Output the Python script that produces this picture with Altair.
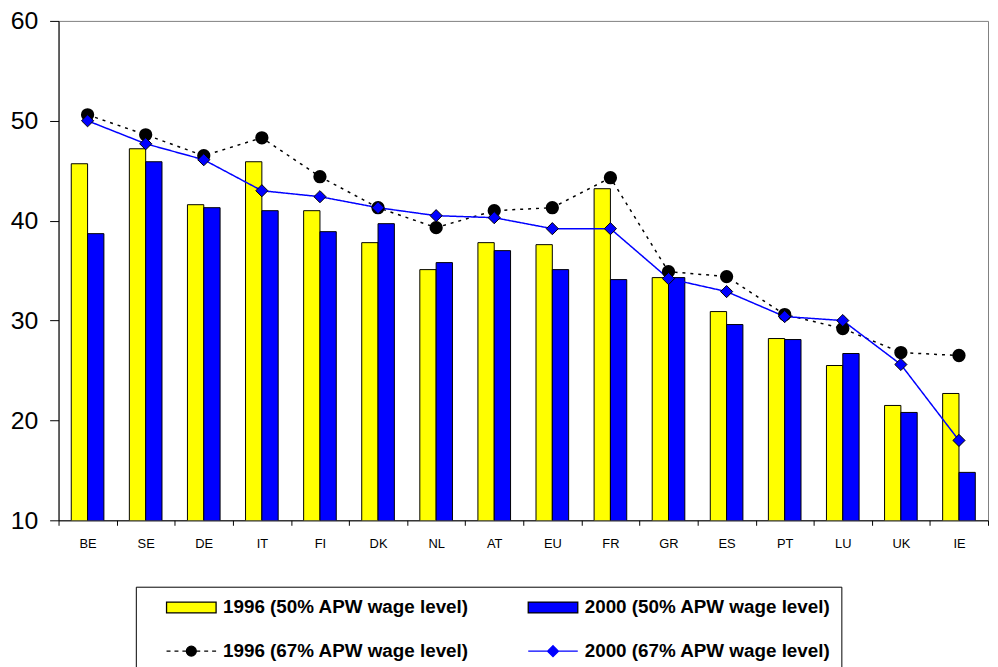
import altair as alt
import pandas as pd

countries = ["BE", "SE", "DE", "IT", "FI", "DK", "NL", "AT", "EU", "FR", "GR", "ES", "PT", "LU", "UK", "IE"]
bar_1996_50 = [45.7, 47.2, 41.6, 45.9, 41.0, 37.8, 35.1, 37.8, 37.6, 43.2, 34.3, 30.9, 28.2, 25.5, 21.5, 22.7]
bar_2000_50 = [38.7, 45.9, 41.3, 41.0, 38.9, 39.7, 35.8, 37.0, 35.1, 34.1, 34.3, 29.6, 28.1, 26.7, 20.8, 14.8]
line_1996_67 = [50.6, 48.6, 46.5, 48.3, 44.4, 41.3, 39.3, 41.0, 41.3, 44.3, 34.9, 34.4, 30.6, 29.2, 26.8, 26.5]
line_2000_67 = [50.0, 47.7, 46.1, 43.0, 42.4, 41.3, 40.5, 40.3, 39.2, 39.2, 34.2, 32.9, 30.4, 30.0, 25.6, 18.0]

s_b96 = "1996 (50% APW wage level)"
s_b00 = "2000 (50% APW wage level)"
s_l96 = "1996 (67% APW wage level)"
s_l00 = "2000 (67% APW wage level)"
# legend order (column-major in a 2-column legend)
legend_series = [s_b96, s_l96, s_b00, s_l00]
legend_fills = ["#ffff00", "#000000", "#0000ff", "#0000ff"]
legend_strokes = ["#000000", "#000000", "#000000", "#0000ff"]

bars = pd.DataFrame(
    [{"country": c, "series": s_b96, "value": v} for c, v in zip(countries, bar_1996_50)]
    + [{"country": c, "series": s_b00, "value": v} for c, v in zip(countries, bar_2000_50)]
)
lines = pd.DataFrame(
    [{"country": c, "series": s_l96, "value": v} for c, v in zip(countries, line_1996_67)]
    + [{"country": c, "series": s_l00, "value": v} for c, v in zip(countries, line_2000_67)]
)
alldata = pd.concat([bars, lines], ignore_index=True)

FONT = "Liberation Sans"

x_enc = alt.X(
    "country:N",
    sort=countries,
    scale=alt.Scale(type="band", paddingInner=0, paddingOuter=0),
    axis=alt.Axis(
        title=None, labelAngle=0, tickBand="extent", tickSize=5, labelFontSize=13,
        labelFont=FONT, labelColor="black", domainColor="black", tickColor="black",
        labelPadding=12,
    ),
)
y_enc = alt.Y(
    "value:Q",
    scale=alt.Scale(domain=[10, 60], nice=False, zero=False),
    axis=alt.Axis(
        title=None, values=[10, 20, 30, 40, 50, 60], tickSize=9, labelFontSize=25,
        labelFont=FONT, labelColor="black", labelPadding=12, grid=False,
        domainColor="black", tickColor="black",
    ),
)

RECT = "M-2.5,-0.55H2.5V0.55H-2.5Z"
CIRC = ("M-2.5,0H-2.1M-1.7,0H-1.3M-0.9,0H-0.5M0.5,0H0.9M1.3,0H1.7M2.1,0H2.5"
        "M-0.5,0A0.5,0.5,0,1,1,0.5,0A0.5,0.5,0,1,1,-0.5,0Z")
DIAM = "M-2.5,0H2.5M0,-0.55L0.55,0L0,0.55L-0.55,0Z"
legend_shapes = [RECT, CIRC, RECT, DIAM]

legend = alt.Legend(
    title=None,
    orient="none",
    legendX=78,
    legendY=571,
    columns=2,
    symbolSize=400,
    symbolOffset=35,
    symbolOpacity=1,
    symbolStrokeWidth=1.3,
    labelOffset=21,
    columnPadding=38,
    rowPadding=23,
    padding=10,
    strokeColor="black",
    labelFontSize=19,
    labelFont=FONT,
    labelFontWeight="bold",
    labelColor="black",
    labelLimit=600,
)

bar_layer = alt.Chart(bars).mark_bar(stroke="black", strokeWidth=1, clip=True).encode(
    x=x_enc,
    xOffset=alt.XOffset("series:N", sort=[s_b96, s_b00],
                        scale=alt.Scale(paddingInner=0, paddingOuter=0.78)),
    y=y_enc,
    fill=alt.Fill("series:N", scale=alt.Scale(domain=[s_b96, s_b00], range=["#ffff00", "#0000ff"]), legend=None),
)

line_layer = alt.Chart(lines).mark_line(strokeWidth=1.5).encode(
    x=x_enc,
    y=y_enc,
    stroke=alt.Stroke("series:N", scale=alt.Scale(domain=[s_l96, s_l00], range=["#000000", "#0000ff"]), legend=None),
    strokeDash=alt.StrokeDash("series:N", scale=alt.Scale(domain=[s_l96, s_l00], range=[[3, 5], [1, 0]]), legend=None),
)

circles = alt.Chart(lines).transform_filter(alt.datum.series == s_l96).mark_point(
    shape="circle", filled=True, size=130, fill="black", stroke="black", opacity=1
).encode(x=x_enc, y=y_enc)

diamonds = alt.Chart(lines).transform_filter(alt.datum.series == s_l00).mark_point(
    shape="diamond", filled=True, size=150, fill="#0000ff", stroke="black", strokeWidth=1, opacity=1
).encode(x=x_enc, y=y_enc)

# invisible layer that only carries the combined legend
legend_layer = alt.Chart(alldata).mark_point(filled=True, opacity=0, strokeWidth=1.3).encode(
    x=x_enc,
    y=y_enc,
    fill=alt.Fill("series:N", scale=alt.Scale(domain=legend_series, range=legend_fills), legend=legend),
    stroke=alt.Stroke("series:N", scale=alt.Scale(domain=legend_series, range=legend_strokes), legend=legend),
    shape=alt.Shape("series:N", scale=alt.Scale(domain=legend_series, range=legend_shapes), legend=legend),
)

chart = alt.layer(legend_layer, bar_layer, line_layer, circles, diamonds).resolve_scale(
    fill="independent", stroke="independent", shape="independent", strokeDash="independent"
).resolve_legend(
    fill="independent", stroke="independent", shape="independent", strokeDash="independent"
).properties(
    width=938,
    height=504,
    padding={"left": 51, "top": 10, "right": 2, "bottom": 145},
    autosize=alt.AutoSizeParams(type="none"),
    background="white",
).configure_view(stroke="#808080", strokeWidth=1)

chart.save("out.html", embed_options={"renderer": "svg", "actions": False})
